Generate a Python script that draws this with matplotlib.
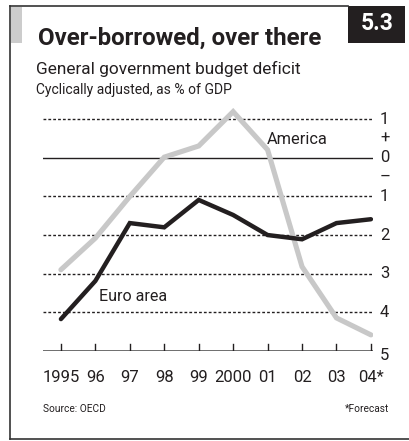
import matplotlib
matplotlib.use("Agg")
import matplotlib.pyplot as plt
from matplotlib.lines import Line2D
from matplotlib.patches import Rectangle

plt.rcParams['font.family'] = ['Roboto', 'DejaVu Sans']

years = [1995, 1996, 1997, 1998, 1999, 2000, 2001, 2002, 2003, 2004]
year_labels = ['1995', '96', '97', '98', '99', '2000', '01', '02', '03', '04*']
# budget balance, % of GDP (negative = deficit)
america = [-2.9, -2.08, -1.0, 0.02, 0.31, 1.2, 0.21, -2.82, -4.15, -4.59]
euro_area = [-4.18, -3.19, -1.69, -1.8, -1.09, -1.48, -2.0, -2.11, -1.69, -1.59]
grid_vals = [1, -1, -2, -3, -4]
right_labels = [(1, '1'), (0.5, '+'), (0, '0'), (-0.5, '–'), (-1, '1'), (-2, '2'),
                (-3, '3'), (-4, '4'), (-5.12, '5')]

W, H = 409, 441
fig = plt.figure(figsize=(W / 100, H / 100), dpi=100)

def fx(px):
    return px / W

def fy(py):
    return 1 - py / H

# frame
fig.add_artist(Line2D([fx(10), fx(10)], [fy(6), fy(439)], color='#333333', lw=1.2))
fig.add_artist(Line2D([fx(10), fx(348)], [fy(6), fy(6)], color='#333333', lw=1.2))
fig.add_artist(Line2D([fx(10), fx(409)], [fy(439), fy(439)], color='#333333', lw=1.2))
fig.add_artist(Rectangle((fx(11), fy(43)), fx(11), fy(7) - fy(43), color='#cccccc', lw=0))
fig.add_artist(Rectangle((fx(348), fy(43)), fx(57), fy(6) - fy(43), color='#231f20', lw=0))
fig.text(fx(377), fy(24), '5.3', color='white', fontsize=16.5, fontweight='bold',
         ha='center', va='center')

fig.text(fx(38), fy(45), 'Over-borrowed, over there', fontsize=17.3, fontweight='bold',
         color='#231f20', ha='left', va='baseline')
fig.text(fx(36), fy(74), 'General government budget deficit', fontsize=12.4,
         color='#231f20', ha='left', va='baseline')
fig.text(fx(36), fy(94), 'Cyclically adjusted, as % of GDP', fontsize=10,
         color='#231f20', ha='left', va='baseline')

ax = fig.add_axes([fx(43), fy(350.7), fx(373) - fx(43), (350.7 - 107.8) / H])
ax.set_xlim(1994.48, 2004.06)
ax.set_ylim(-5, 1.3)
ax.patch.set_visible(False)
for s in ax.spines.values():
    s.set_visible(False)
ax.set_xticks([])
ax.set_yticks([])

for g in grid_vals:
    ax.axhline(g, color='#231f20', lw=1.0, ls=(0, (2, 1.5)), zorder=1)
ax.axhline(0, color='#231f20', lw=1.0, zorder=1)
ax.axhline(-5, color='#555555', lw=1.2, zorder=1)
for yr in years:
    ax.plot([yr, yr], [-5, -4.82], color='#231f20', lw=1.0, zorder=1)

ax.plot(years, america, color='#c8c8c8', lw=3.7, solid_joinstyle='miter',
        solid_capstyle='round', zorder=2)
ax.plot(years, euro_area, color='#231f20', lw=3.2, solid_joinstyle='miter',
        solid_capstyle='round', zorder=3)

ax.text(2000.98, 0.49, 'America', fontsize=11.8, color='#231f20', ha='left', va='center')
ax.text(1996.1, -3.59, 'Euro area', fontsize=11.5, color='#231f20', ha='left', va='center')

for v, lab in right_labels:
    ax.text(2004.4, v, lab, fontsize=12, color='#231f20', ha='center', va='center',
            clip_on=False)

for yr, lab in zip(years, year_labels):
    ax.text(yr, -5.7, lab, fontsize=12, color='#231f20', ha='center', va='center',
            clip_on=False)

fig.text(fx(43), fy(412), 'Source: OECD', fontsize=7.3, color='#231f20',
         ha='left', va='baseline')
fig.text(fx(389), fy(412), '*Forecast', fontsize=7.3, color='#231f20',
         ha='right', va='baseline')

fig.savefig('out.png', dpi=100)
